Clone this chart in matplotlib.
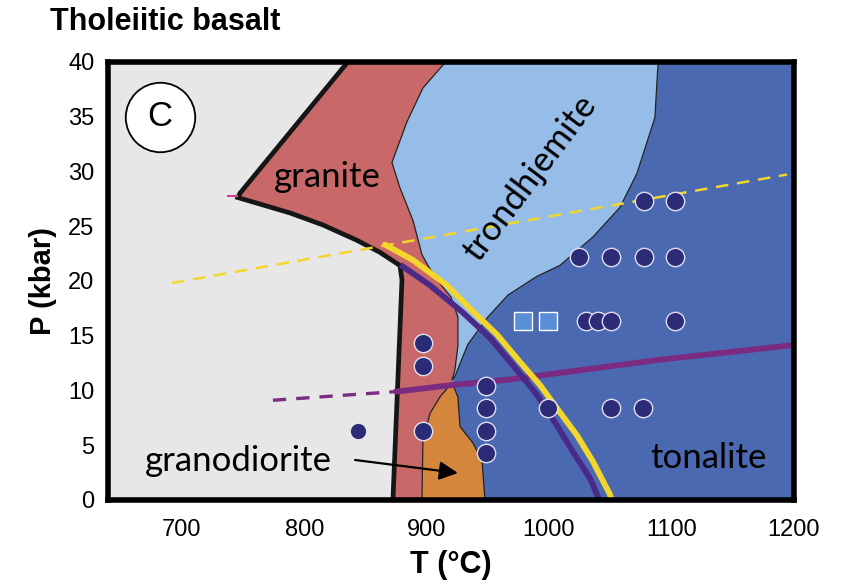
import matplotlib.pyplot as plt
from matplotlib.patches import Polygon

# Tholeiitic basalt melting diagram (panel C)

# thick black boundary (solidus-like)
black_T = [836.5, 747.5, 745.8, 788.3, 815.3, 843.1, 861.9, 878.2, 879.9, 872.5]
black_P = [40.1, 28.0, 27.6, 26.2, 25.1, 23.7, 22.6, 21.4, 20.1, 0.0]

# granite / trondhjemite boundary (top to bottom)
red_lb_T = [916.6, 913.4, 897.0, 883.9, 871.7, 878.2, 888.9, 896.2, 901.1, 908.5,
            920.0, 925.6, 925.6, 923.2, 920.7]
red_lb_P = [40.1, 39.7, 37.6, 34.5, 30.8, 28.5, 25.5, 22.4, 21.4, 20.1,
            18.5, 16.7, 14.1, 11.9, 10.9]

# trondhjemite / tonalite boundary (top to bottom)
lb_db_T = [1090.7, 1089.1, 1086.6, 1071.9, 1058.0, 1035.9, 1008.9, 990.0, 966.5, 950.1, 933.7, 923.2]
lb_db_P = [40.1, 39.7, 34.9, 29.8, 26.7, 24.0, 21.4, 20.4, 18.7, 16.7, 14.2, 11.3]

# granodiorite field
gd_left_T = [920.7, 910.9, 902.8, 897.0, 896.2]
gd_left_P = [10.7, 9.4, 7.9, 5.5, 0.0]
gd_right_T = [920.7, 925.6, 927.3, 937.9, 945.3, 947.7]
gd_right_P = [10.7, 9.4, 6.7, 5.2, 3.6, 0.0]

# yellow dashed line
yd_T = [691.9, 1194.5]
yd_P = [19.8, 29.7]

# purple line (dashed part, then solid part)
pd_T = [774.4, 875.8]
pd_P = [9.1, 9.9]
ps_T = [875.8, 921.5, 968.1, 1008.9, 1090.7, 1197.0]
ps_P = [9.9, 10.5, 11.0, 11.6, 12.8, 14.1]

# thick yellow and purple curves
yc_T = [866.0, 888.9, 916.6, 937.9, 957.5, 976.3, 992.6, 1009.0, 1022.9, 1036.0, 1049.9, 1052.3]
yc_P = [23.3, 21.9, 19.6, 17.2, 15.1, 12.6, 10.5, 8.0, 5.9, 3.5, 0.5, -0.5]
pc_T = [880.7, 902.7, 929.7, 951.8, 970.6, 990.2, 1006.5, 1019.6, 1033.5, 1040.0, 1042.5]
pc_P = [21.3, 19.6, 17.1, 14.8, 12.3, 9.6, 6.8, 4.4, 2.0, 0.3, -0.5]

# experiments
circ_T = [1078, 1103, 1024.5, 1050.7, 1077.6, 1103, 1030.2, 1040, 1050.7, 1103,
          897, 897, 897, 948.5, 948.5, 948.5, 948.5, 999.2, 1050.7, 1076.8]
circ_P = [27.3, 27.3, 22.2, 22.2, 22.2, 22.2, 16.3, 16.3, 16.3, 16.3,
          14.3, 12.2, 6.3, 10.4, 8.4, 6.3, 4.3, 8.4, 8.4, 8.4]
sq_T = [978.8, 999.2]
sq_P = [16.3, 16.3]
lone_T = [843.9]
lone_P = [6.3]

xlim = (640, 1200)
ylim = (0, 40)

gray = '#e7e7e7'
red = '#c96868'
lblue = '#96bde7'
dblue = '#4a69b0'
orange = '#d5863d'
yellow = '#f2d62c'
magenta = '#7b2b82'
violet = '#4a2a88'

fig = plt.figure(figsize=(8.5, 5.86), dpi=100)
ax = fig.add_axes([0.1276, 0.1468, 0.8061, 0.7479])
ax.set_facecolor(gray)
ax.set_xlim(*xlim)
ax.set_ylim(*ylim)

# tonalite (dark blue) field
db_poly = list(zip(lb_db_T, lb_db_P)) + list(zip(gd_right_T, gd_right_P)) + \
    [(1210, 0), (1210, 41), (1090.7, 41)]
ax.add_patch(Polygon(db_poly, closed=True, fc=dblue, ec='none', zorder=1))

# granite (red) field
red_poly = list(zip(black_T, black_P)) + \
    list(zip(gd_left_T[::-1], gd_left_P[::-1])) + \
    list(zip(red_lb_T[::-1], red_lb_P[::-1]))
ax.add_patch(Polygon(red_poly, closed=True, fc=red, ec='none', zorder=1))

# trondhjemite (light blue) field
lb_poly = list(zip(red_lb_T, red_lb_P)) + list(zip(lb_db_T[::-1], lb_db_P[::-1]))
ax.add_patch(Polygon(lb_poly, closed=True, fc=lblue, ec='#222222', lw=0.9, zorder=2))

# granodiorite (orange) field
gd_poly = list(zip(gd_left_T, gd_left_P)) + list(zip(gd_right_T[::-1], gd_right_P[::-1]))
ax.add_patch(Polygon(gd_poly, closed=True, fc=orange, ec='#222222', lw=0.9, zorder=2))

# thick black boundary
ax.plot(black_T, black_P, color='#161616', lw=3.4, solid_joinstyle='miter', zorder=3)
ax.plot([737.5, 745], [27.7, 27.7], color='#d0409a', lw=1.5, zorder=3)

# dashed and solid guide lines
ax.plot(yd_T, yd_P, color=yellow, lw=1.8, dashes=(5, 3.5), zorder=4)
ax.plot(pd_T, pd_P, color=magenta, lw=2.4, dashes=(4, 3), zorder=4)
ax.plot(ps_T, ps_P, color=magenta, lw=4.2, zorder=4)
ax.plot(pc_T, pc_P, color=violet, lw=4.2, solid_joinstyle='round', zorder=5)
ax.plot(yc_T, yc_P, color=yellow, lw=4.2, solid_joinstyle='round',
        solid_capstyle='round', zorder=5)

# experiments
ax.scatter(circ_T, circ_P, s=175, color='#2b2b78', edgecolors='#e0e0f0', linewidths=1.0, zorder=6)
ax.scatter(sq_T, sq_P, s=150, marker='s', color='#5a8fd8', edgecolors='white', linewidths=1.0, zorder=6)
ax.scatter(lone_T, lone_P, s=120, color='#2b2b78', linewidths=0, zorder=6)

# field labels
lab = dict(family='Lato', fontsize=25, color='black', zorder=7)
ax.text(818.6, 29.5, 'granite', ha='center', va='center', **lab)
ax.text(746.2, 3.6, 'granodiorite', ha='center', va='center', **lab)
ax.text(1130.7, 3.8, 'tonalite', ha='center', va='center', **lab)
ax.text(984.4, 29.4, 'trondhjemite', ha='center', va='center', rotation=53,
        rotation_mode='anchor', **lab)
ax.annotate('', xy=(925.6, 2.46), xytext=(841.5, 3.65),
            arrowprops=dict(arrowstyle='-|>', color='black', lw=1.6,
                            mutation_scale=28, shrinkA=0, shrinkB=0), zorder=7)

# panel badge
ax.plot([0.075], [0.874], 'o', ms=50, mfc='white', mec='black', mew=1.3,
        transform=ax.transAxes, zorder=8)
ax.text(0.075, 0.874, 'C', transform=ax.transAxes, ha='center', va='center',
        family='Liberation Sans', fontsize=25, zorder=9)

for s in ax.spines.values():
    s.set_linewidth(4.0)
    s.set_color('black')
    s.set_zorder(10)

ax.set_xticks([700, 800, 900, 1000, 1100, 1200])
ax.set_yticks(range(0, 41, 5))
ax.tick_params(length=0, labelsize=17)
ax.tick_params(axis='x', pad=14)
ax.tick_params(axis='y', pad=10)
for t in ax.get_xticklabels() + ax.get_yticklabels():
    t.set_family('Liberation Sans')

ax.set_xlabel('T (°C)', family='Liberation Sans', fontweight='bold', fontsize=22, labelpad=6)
ax.set_ylabel('P (kbar)', family='Liberation Sans', fontweight='bold', fontsize=21, labelpad=8)

fig.text(0.059, 0.962, 'Tholeiitic basalt', family='Liberation Sans', fontweight='bold',
         fontsize=22, ha='left', va='center')

fig.savefig('out.png', dpi=100)
